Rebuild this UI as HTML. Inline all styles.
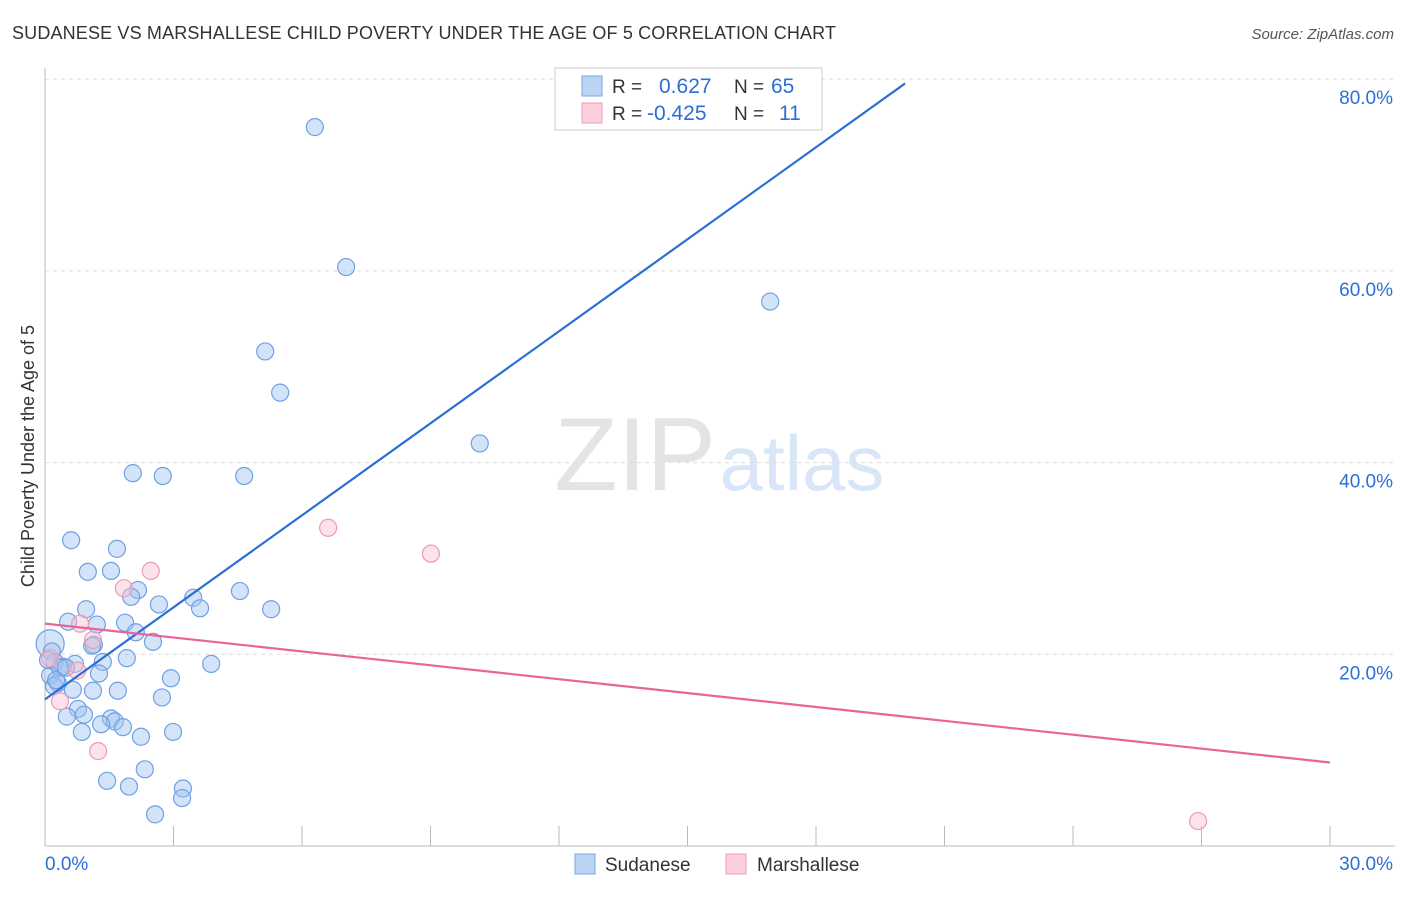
<!DOCTYPE html>
<html><head><meta charset="utf-8"><style>
body{margin:0;background:#fff;font-family:"Liberation Sans",sans-serif}
svg text{font-family:"Liberation Sans",sans-serif}
</style></head><body>
<svg id="chart" width="1406" height="892">
<text x="12" y="39" font-size="18" fill="#333" textLength="824">SUDANESE VS MARSHALLESE CHILD POVERTY UNDER THE AGE OF 5 CORRELATION CHART</text>
<text x="1394" y="39" font-size="15" fill="#555" font-style="italic" text-anchor="end">Source: ZipAtlas.com</text>
<g>
<text x="635" y="490" font-size="104" fill="#e4e4e4" font-family="Liberation Serif" text-anchor="middle">ZIP</text>
<text x="802" y="490" font-size="78" fill="#d8e6f7" text-anchor="middle">atlas</text>
</g>
<g id="grid"></g>
<g id="axes"></g>
<g id="marks"></g>
<text transform="translate(34,456) rotate(-90)" font-size="18" fill="#333" text-anchor="middle">Child Poverty Under the Age of 5</text>
<g>
<rect x="555" y="68" width="267" height="62" fill="#fff" stroke="#ccc"/>
<rect x="582" y="76" width="20" height="20" fill="#bcd4f4" stroke="#7aa7e6"/>
<rect x="582" y="103" width="20" height="20" fill="#fbd0dc" stroke="#f09ab4"/>
<text x="612" y="93" font-size="19" fill="#333">R = <tspan fill="#2b6fd6" x="659" font-size="21">0.627</tspan><tspan x="734" fill="#333">N = </tspan><tspan fill="#2b6fd6" x="771" font-size="21">65</tspan></text>
<text x="612" y="120" font-size="19" fill="#333">R = <tspan fill="#2b6fd6" x="647" font-size="21">-0.425</tspan><tspan x="734" fill="#333">N = </tspan><tspan fill="#2b6fd6" x="779" font-size="21">11</tspan></text>
</g>
<g>
<rect x="575" y="854" width="20" height="20" fill="#bcd4f4" stroke="#7aa7e6"/>
<text x="605" y="871" font-size="19" fill="#333">Sudanese</text>
<rect x="726" y="854" width="20" height="20" fill="#fbd0dc" stroke="#f09ab4"/>
<text x="757" y="871" font-size="19" fill="#333">Marshallese</text>
</g>
</svg>
<script>
const yTicks=[20,40,60,80];
const xTickVals=[3,6,9,12,15,18,21,24,27,30];
const blueX=[6.30,7.03,16.93,5.14,5.49,10.15,2.05,2.75,4.65,0.61,1.68,1.00,1.54,2.17,2.01,4.55,2.66,3.46,3.62,5.28,0.96,0.54,1.21,1.87,2.12,2.52,1.14,1.10,0.12,0.16,0.23,0.42,0.70,1.35,1.91,3.88,0.12,1.26,2.94,0.30,0.21,0.65,1.12,1.70,2.73,0.77,0.91,0.51,1.54,1.63,1.82,1.31,0.86,2.24,2.99,1.45,2.33,1.96,3.22,3.20,2.57,0.35,0.07,0.26,0.49];
const blueY=[75.0,60.4,56.8,51.6,47.3,42.0,38.9,38.6,38.6,31.9,31.0,28.6,28.7,26.7,26.0,26.6,25.2,25.9,24.8,24.7,24.7,23.4,23.1,23.3,22.3,21.3,21.0,20.9,21.1,20.3,19.2,18.7,19.0,19.2,19.6,19.0,17.8,18.0,17.5,17.0,16.7,16.3,16.2,16.2,15.5,14.3,13.7,13.5,13.3,13.0,12.4,12.7,11.9,11.4,11.9,6.8,8.0,6.2,6.0,5.0,3.3,18.6,19.4,17.3,18.6];
const pinkX=[2.47,1.84,6.61,9.01,0.82,1.12,0.75,0.12,0.35,1.24,26.92];
const pinkY=[28.7,26.9,33.2,30.5,23.2,21.5,18.3,19.6,15.1,9.9,2.6];
const blueLine=[15.3,3.2];   // intercept, slope
const pinkLine=[23.2,-0.483];
const blueLineEnd=[0,20.08];
const pinkLineEnd=[0,30];
const NS='http://www.w3.org/2000/svg';
const sx=v=>45+v/30*1285;
const sy=v=>846-v/20*191.7;
function mk(tag,attrs,parent){const e=document.createElementNS(NS,tag);for(const k in attrs)e.setAttribute(k,attrs[k]);document.getElementById(parent).appendChild(e);return e;}
yTicks.forEach(t=>{
 const l=mk('line',{x1:45,x2:1395,y1:sy(t),y2:sy(t),stroke:'#ddd','stroke-dasharray':'4,4'},'grid');
 
 
 const tx=mk('text',{x:1393,y:sy(t)+25,'font-size':19,fill:'#2b6fd6','text-anchor':'end'},'grid');
 tx.textContent=t.toFixed(1)+'%';
 
 
});
let a=mk('line',{x1:45,x2:45,y1:68,y2:846,stroke:'#bbb'},'axes');


a=mk('line',{x1:45,x2:1395,y1:846,y2:846,stroke:'#bbb'},'axes');


xTickVals.forEach(t=>{
 const l=mk('line',{x1:sx(t),x2:sx(t),y1:826,y2:846,stroke:'#bbb'},'axes');
 
 
});
let t0=mk('text',{x:45,y:870,'font-size':19,fill:'#2b6fd6'},'axes');t0.textContent='0.0%';


let t1=mk('text',{x:1393,y:870,'font-size':19,fill:'#2b6fd6','text-anchor':'end'},'axes');t1.textContent='30.0%';


blueX.forEach((x,i)=>{
 const c=mk('circle',{cx:sx(x),cy:sy(blueY[i]),r:(i===28?14:8.5),fill:'rgba(160,196,240,0.45)',stroke:'#6fa0e4','stroke-width':1.2},'marks');
 
 
});
pinkX.forEach((x,i)=>{
 const c=mk('circle',{cx:sx(x),cy:sy(pinkY[i]),r:8.5,fill:'rgba(248,190,208,0.45)',stroke:'#f09ab4','stroke-width':1.2},'marks');
 
 
});
let bl=mk('line',{x1:sx(blueLineEnd[0]),y1:sy(blueLine[0]+blueLine[1]*blueLineEnd[0]),x2:sx(blueLineEnd[1]),y2:sy(blueLine[0]+blueLine[1]*blueLineEnd[1]),stroke:'#2b6fd6','stroke-width':2.2},'marks');


let pl=mk('line',{x1:sx(pinkLineEnd[0]),y1:sy(pinkLine[0]+pinkLine[1]*pinkLineEnd[0]),x2:sx(pinkLineEnd[1]),y2:sy(pinkLine[0]+pinkLine[1]*pinkLineEnd[1]),stroke:'#e8649a','stroke-width':2.2},'marks');


</script>
</body></html>
